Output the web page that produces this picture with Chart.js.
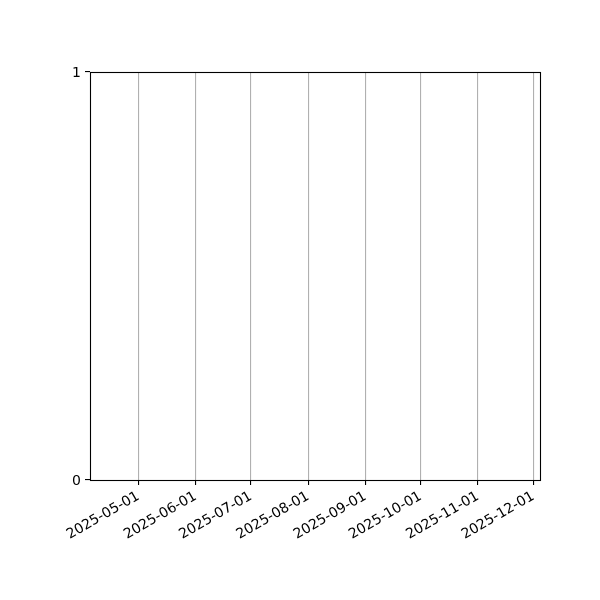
<!DOCTYPE html>
<html>
<head>
<meta charset="utf-8">
<script src="https://cdn.jsdelivr.net/npm/chart.js@4.4.1/dist/chart.umd.min.js"></script>
<style>
  body { margin: 0; background: #fff; }
  canvas { display: block; }
</style>
</head>
<body>
<canvas id="myChart" width="600" height="600"></canvas>
<script>
// empty series, the plot only shows its axes
var seriesDates = [];
var seriesValues = [];

// month ticks along the bottom
var tickDates = [
  Date.UTC(2025, 4, 1), Date.UTC(2025, 5, 1), Date.UTC(2025, 6, 1), Date.UTC(2025, 7, 1),
  Date.UTC(2025, 8, 1), Date.UTC(2025, 9, 1), Date.UTC(2025, 10, 1), Date.UTC(2025, 11, 1)
];
var tickLabels = [
  "2025-05-01", "2025-06-01", "2025-07-01", "2025-08-01",
  "2025-09-01", "2025-10-01", "2025-11-01", "2025-12-01"
];
var xMin = Date.UTC(2025, 3, 4, 19);
var xMax = Date.UTC(2025, 11, 4, 15);
var yTicks = [0, 1];

var points = seriesDates.map(function (d, i) { return { x: d, y: seriesValues[i] }; });

var frame = {
  id: 'frame',
  afterDraw: function (chart) {
    var a = chart.chartArea;
    var ctx = chart.ctx;
    ctx.save();
    ctx.strokeStyle = '#000';
    ctx.lineWidth = 1.1;
    ctx.strokeRect(Math.round(a.left) + 0.5, Math.round(a.top) + 0.5,
      Math.round(a.right - a.left), Math.round(a.bottom - a.top));
    ctx.restore();
  }
};

var ctx = document.getElementById("myChart").getContext('2d');
var myChart = new Chart(ctx, {
  type: 'line',
  data: {
    datasets: [{
      data: points,
      borderColor: '#1f77b4',
      pointRadius: 0
    }]
  },
  options: {
    responsive: false,
    animation: false,
    layout: { padding: { left: 0, top: 72, right: 60, bottom: 0 } },
    plugins: { legend: { display: false }, tooltip: { enabled: false } },
    scales: {
      x: {
        type: 'linear',
        min: xMin,
        max: xMax,
        afterBuildTicks: function (scale) {
          scale.ticks = tickDates.map(function (v) { return { value: v }; });
        },
        afterFit: function (scale) { scale.height = 120; },
        grid: { color: '#b0b0b0', lineWidth: 1.1, tickColor: '#000', tickLength: 5 },
        border: { display: false },
        ticks: {
          color: '#000',
          font: { family: 'DejaVu Sans', size: 14 },
          minRotation: 30,
          maxRotation: 30,
          autoSkip: false,
          padding: 3,
          callback: function (value, index) { return tickLabels[index]; }
        }
      },
      y: {
        min: 0,
        max: 1,
        afterBuildTicks: function (scale) {
          scale.ticks = yTicks.map(function (v) { return { value: v }; });
        },
        afterFit: function (scale) { scale.width = 90; },
        grid: { drawOnChartArea: false, tickColor: '#000', lineWidth: 1.1, tickLength: 5 },
        border: { display: false },
        ticks: {
          color: '#000',
          font: { family: 'DejaVu Sans', size: 14 },
          padding: 4,
          labelOffset: 1
        }
      }
    }
  },
  plugins: [frame]
});
</script>
</body>
</html>
